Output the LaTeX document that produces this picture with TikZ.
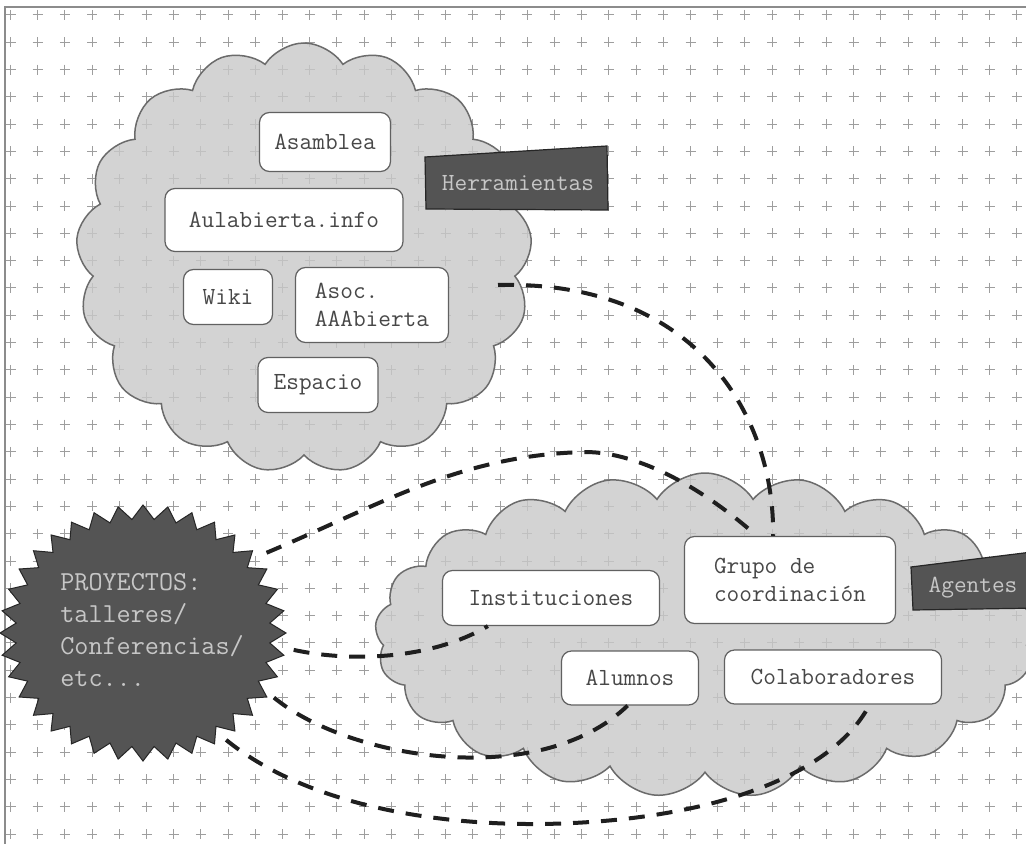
\documentclass[tikz,border=0pt]{standalone}
\usepackage{fontspec}
\usetikzlibrary{shapes.symbols,shapes.geometric}

\begin{document}
\begin{tikzpicture}[
    x=0.5pt, y=-0.5pt,
    font=\ttfamily\fontsize{12.3}{14}\selectfont,
    gridmark/.style={draw=black!38, line width=0.5pt},
    cloudbg/.style={cloud, cloud puffs=17, cloud puff arc=115, cloud ignores aspect,
        fill=black!21, fill opacity=0.8, draw=black!58, line width=0.75pt, inner sep=0pt},
    item/.style={rectangle, rounded corners=5pt, fill=white, draw=black!62, line width=0.6pt,
        text=black!72, inner sep=0pt, align=left},
    darkbox/.style={fill=black!67, draw=black!85, line width=0.6pt},
    darktext/.style={text=black!22, inner sep=0pt},
    burst/.style={fill=black!67, draw=black!85, line width=0.5pt},
    link/.style={draw=black!88, line width=2pt, dash pattern=on 8pt off 6pt}
]
\clip (0,0) rectangle (1026,844);
\fill[white] (0,0) rectangle (1026,844);
\draw[black!45, line width=0.6pt] (5,7) rectangle (1040,860);

% plus grid
\foreach \i in {0,...,37} {
    \foreach \j in {0,...,30} {
        \draw[gridmark] ({10.5+27.2*\i-5},{15+27.3*\j}) -- ++(10,0)
            ({10.5+27.2*\i},{15+27.3*\j-5}) -- ++(0,10);
    }
}

% clouds
\node[cloudbg, minimum width=228pt, minimum height=215pt] (tools) at (304,258) {};
\node[cloudbg, cloud puffs=21, minimum width=330pt, minimum height=162pt] (agents) at (705,635) {};

% tools
\node[item, minimum width=65.5pt, minimum height=29.5pt] (asam) at (325,142) {Asamblea};
\node[item, minimum width=119pt, minimum height=31.5pt] (aula) at (284,220) {Aulabierta.info};
\node[item, minimum width=44.5pt, minimum height=27.5pt] (wiki) at (228,297) {Wiki};
\node[item, minimum width=76.5pt, minimum height=37.5pt] (asoc) at (372,305) {Asoc.\\AAAbierta};
\node[item, minimum width=60pt, minimum height=27.5pt] (esp) at (318,385) {Espacio};

% agents
\node[item, minimum width=108.5pt, minimum height=27.5pt] (inst) at (551,598) {Instituciones};
\node[item, minimum width=105.5pt, minimum height=43.5pt] (grupo) at (790,580) {Grupo de\\coordinación};
\node[item, minimum width=68.5pt, minimum height=27pt] (alum) at (630,678) {Alumnos};
\node[item, minimum width=108.5pt, minimum height=27pt] (colab) at (833,677) {Colaboradores};

% dark labels
\filldraw[darkbox] (425,157) -- (607,146) -- (608,210) -- (426,209) -- cycle;
\node[darktext] (herr) at (518,183) {Herramientas};
\filldraw[darkbox] (911,567) -- (1040,551) -- (1040,608) -- (913,610) -- cycle;
\node[darktext] (agen) at (973,588) {Agentes};

% projects burst
\filldraw[burst] (286,633) \foreach \k in {1,...,71} {
    -- ({143+143*cos(5*\k)*(1-0.11*mod(\k,2))},{633+128*sin(5*\k)*(1-0.11*mod(\k,2))})
} -- cycle;
\node[ellipse, minimum width=143pt, minimum height=128pt, inner sep=0pt, text=black!22,
    align=left, font=\ttfamily\fontsize{13.7}{16}\selectfont] (proy) at (152,630)
    {PROYECTOS:\\talleres/\\Conferencias/\\etc...};

% links
\coordinate (toolsout) at (498,285);
\draw[link] (toolsout) .. controls (700,280) and (775,420) .. (grupo.111);
\draw[link] (proy.34) .. controls (380,505) and (460,455) .. (585,452)
    .. controls (640,452) and (705,490) .. (grupo.127);
\draw[link] (proy.-8) .. controls (350,662) and (430,660) .. (inst.204);
\draw[link] (proy.-29) .. controls (350,760) and (540,790) .. (alum.265);
\draw[link] (proy.-56) .. controls (300,800) and (420,825) .. (540,824)
    .. controls (700,822) and (830,780) .. (colab.-37);
\end{tikzpicture}
\end{document}
